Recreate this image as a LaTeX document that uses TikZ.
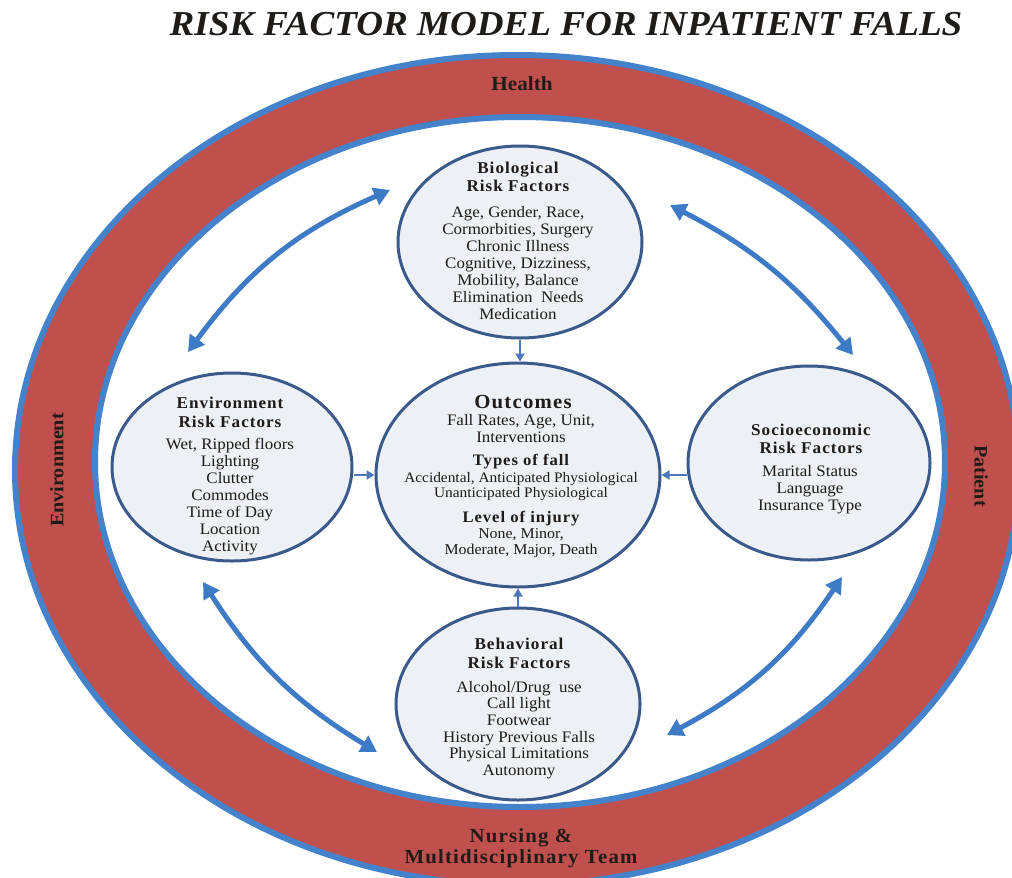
\documentclass[tikz,border=0pt]{standalone}
\usepackage{fontspec}
\setmainfont{Liberation Serif}[FakeStretch=1.06]
\newfontfamily\headfont{Liberation Serif}[LetterSpace=6,FakeStretch=1.04]
\usetikzlibrary{shapes.geometric,arrows.meta,calc}

\definecolor{ringred}{HTML}{C0504D}
\definecolor{ringblue}{HTML}{4482CC}
\definecolor{arrowblue}{HTML}{3E7BC6}
\definecolor{linkblue}{HTML}{4A78B8}
\definecolor{circline}{HTML}{3A5A8C}
\definecolor{circfill}{HTML}{EDF0F5}
\definecolor{txt}{HTML}{1E1B18}

\begin{document}
\begin{tikzpicture}[x=1pt,y=-1pt,
  factor/.style={ellipse, draw=circline, line width=3pt, fill=circfill, inner sep=0pt},
  txtnode/.style={inner sep=0pt, align=center, text=txt},
  head/.style={txtnode, font=\headfont\bfseries\fontsize{16.5}{18.5}\selectfont},
  body/.style={txtnode, font=\fontsize{16}{17}\selectfont},
  small/.style={txtnode, font=\fontsize{14.5}{15}\selectfont},
  ringlabel/.style={txtnode, font=\bfseries\fontsize{19}{21}\selectfont},
  bigarrow/.style={draw=arrowblue, line width=5pt,
    {Triangle[width=18pt,length=16pt]}-{Triangle[width=18pt,length=16pt]}},
  link/.style={draw=linkblue, line width=1.8pt, -{Triangle[width=9pt,length=8pt]}}
]
\useasboundingbox (0,0) rectangle (1012,878);
\clip (0,0) rectangle (1012,878);
\fill[white] (0,0) rectangle (1012,878);

% title
\node[txtnode, font=\bfseries\itshape\fontsize{35}{37}\selectfont] (title) at (566,24) {RISK FACTOR MODEL FOR INPATIENT FALLS};

% outer ring
\fill[ringred, even odd rule] (517,470) ellipse [x radius=502, y radius=415]
                              (520,462) ellipse [x radius=425, y radius=345];
\draw[ringblue, line width=6pt] (517,470) ellipse [x radius=502, y radius=415];
\draw[ringblue, line width=6pt] (520,462) ellipse [x radius=425, y radius=345];

% ring labels
\node[ringlabel, font=\bfseries\fontsize{20}{21}\selectfont] (health) at (522,84) {Health};
\node[ringlabel, rotate=90] (envring) at (57,470) {Environment};
\node[ringlabel, rotate=-90] (patient) at (981,476) {Patient};
\node[txtnode, font=\headfont\bfseries\fontsize{20}{21}\selectfont] (nursing) at (521,848) {Nursing \&\\Multidisciplinary Team};

% curved two-way arrows between the outer factors
\coordinate (tlA) at (188,352);
\coordinate (tlB) at (390,190);
\coordinate (trA) at (670,205);
\coordinate (trB) at (853,355);
\coordinate (brA) at (842,577);
\coordinate (brB) at (667,735);
\coordinate (blA) at (377,752);
\coordinate (blB) at (203,582);
\draw[bigarrow] (tlA) to[bend left=15] (tlB);
\draw[bigarrow] (trA) to[bend left=12] (trB);
\draw[bigarrow] (brA) to[bend left=14] (brB);
\draw[bigarrow] (blA) to[bend left=13] (blB);

% factor ellipses
\node[factor, minimum width=244pt, minimum height=192pt] (bio) at (520,242) {};
\node[factor, minimum width=284pt, minimum height=224pt] (out) at (518,475) {};
\node[factor, minimum width=240pt, minimum height=188pt] (env) at (232,467) {};
\node[factor, minimum width=242pt, minimum height=194pt] (soc) at (809,463) {};
\node[factor, minimum width=244pt, minimum height=192pt] (beh) at (518,704) {};

% links into the outcomes
\draw[link] (bio.south) -- (bio.south |- out.north);
\draw[link] (beh.north) -- (beh.north |- out.south);
\draw[link] (env.east |- out.west) -- (out.west);
\draw[link] (soc.west |- out.east) -- (out.east);

% biological
\node[head] (bioH) at (518,177) {Biological\\Risk Factors};
\node[body] (bioB) at (518,263) {Age, Gender, Race,\\Cormorbities, Surgery\\Chronic Illness\\Cognitive, Dizziness,\\Mobility, Balance\\Elimination~ Needs\\Medication};

% outcomes
\node[txtnode, font=\headfont\bfseries\fontsize{20}{22}\selectfont] (outH) at (523,402) {Outcomes};
\node[body] (outB1) at (521,429) {Fall Rates, Age, Unit,\\Interventions};
\node[head, font=\headfont\bfseries\fontsize{16}{18}\selectfont] (outH2) at (521,462) {Types of fall};
\node[small] (outB2) at (521,487) {Accidental, Anticipated Physiological\\Unanticipated Physiological};
\node[head, font=\headfont\bfseries\fontsize{16}{18}\selectfont] (outH3) at (521,519) {Level of injury};
\node[small, font=\fontsize{15}{15.5}\selectfont] (outB3) at (521,543) {None, Minor,\\Moderate, Major, Death};

% environment
\node[head, font=\headfont\bfseries\fontsize{16.5}{19}\selectfont] (envH) at (230,412) {Environment\\Risk Factors};
\node[body] (envB) at (230,497) {Wet, Ripped floors\\Lighting\\Clutter\\Commodes\\Time of Day\\Location\\Activity};

% socioeconomic
\node[head, font=\headfont\bfseries\fontsize{16.5}{17.5}\selectfont] (socH) at (811,439) {Socioeconomic\\Risk Factors};
\node[body] (socB) at (810,490) {Marital Status\\Language\\Insurance Type};

% behavioral
\node[head, font=\headfont\bfseries\fontsize{16.5}{19}\selectfont] (behH) at (519,653) {Behavioral\\Risk Factors};
\node[body, font=\fontsize{16}{16.6}\selectfont] (behB) at (519,730) {Alcohol/Drug~ use\\Call light\\Footwear\\History Previous Falls\\Physical Limitations\\Autonomy};
\end{tikzpicture}
\end{document}
